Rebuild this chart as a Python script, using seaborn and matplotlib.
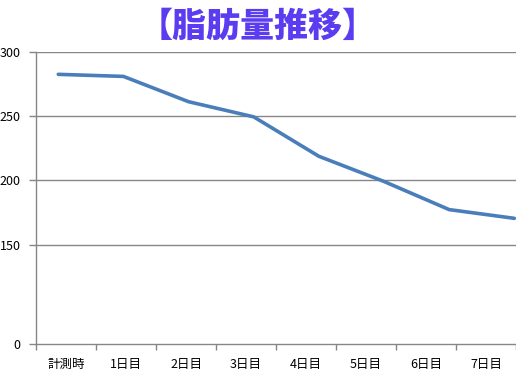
import numpy as np
import pandas as pd
import matplotlib
matplotlib.use("Agg")
import matplotlib.pyplot as plt
import seaborn as sns

# ---- data ----
categories = ["計測時", "1日目", "2日目", "3日目", "4日目", "5日目", "6日目", "7日目"]
fat_values = [282.6, 281.0, 261.3, 249.5, 218.8, 199.2, 177.3, 170.5]
y_ticks = [0, 150, 200, 250, 300]
title_text = "【脂肪量推移】"

sns.set_style("white")
plt.rcParams["font.family"] = ["Noto Sans CJK JP", "DejaVu Sans"]

# piecewise y scale: 0-150 compressed, 150-300 linear
K = 77.34 / 150.0
def fwd(y):
    y = np.asarray(y, dtype=float)
    return np.where(y >= 150, y, 150 - (150 - y) * K)
def inv(t):
    t = np.asarray(t, dtype=float)
    return np.where(t >= 150, t, 150 - (150 - t) / K)

fig = plt.figure(figsize=(5.16, 3.79), dpi=100)
ax = fig.add_axes([36/516, 1 - 344/379, 480/516, (344 - 52)/379])

ax.set_yscale("function", functions=(fwd, inv))
ax.set_ylim(0, 300)

n = len(categories)
ax.set_xlim(0, n)

# line on its own x scale (shares y with ax)
ax2 = ax.twiny()
df = pd.DataFrame({"idx": np.arange(n), "value": fat_values})
sns.lineplot(data=df, x="idx", y="value", ax=ax2, color="#4A7EBB", lw=2.6, zorder=3)
ax2.set_xlim(-0.342, 7.026)
ax2.set_xticks([])
ax2.set_xlabel("")
ax2.set_ylabel("")
for s in ax2.spines.values():
    s.set_visible(False)

ax.set_ylim(0, 300)
ax.set_yticks(y_ticks)
ax.set_yticklabels([str(v) for v in y_ticks])
for v in y_ticks[1:]:
    ax.axhline(v, color="#868686", lw=1.0, zorder=1)

ax.set_xticks(np.arange(n + 1))
ax.set_xticklabels([""] * (n + 1))
ax.set_xticks(np.arange(n) + 0.5, minor=True)
ax.set_xticklabels(categories, minor=True)
ax.tick_params(axis="x", which="major", direction="out", length=4, width=1, color="#868686")
ax.tick_params(axis="x", which="minor", length=0, pad=10, labelsize=9, labelcolor="black")
ax.tick_params(axis="y", direction="out", length=5, width=1, color="#868686", pad=6,
               labelsize=9, labelcolor="black", left=True, labelleft=True)

for s in ["top", "right"]:
    ax.spines[s].set_visible(False)
for s in ["left", "bottom"]:
    ax.spines[s].set_color("#868686")
    ax.spines[s].set_linewidth(1.0)

fig.text(258/516, 1 - 26/379, title_text, ha="center", va="center",
         fontsize=24.5, fontweight="black", color="#5B3CF0")

fig.savefig("out.png", dpi=100)
